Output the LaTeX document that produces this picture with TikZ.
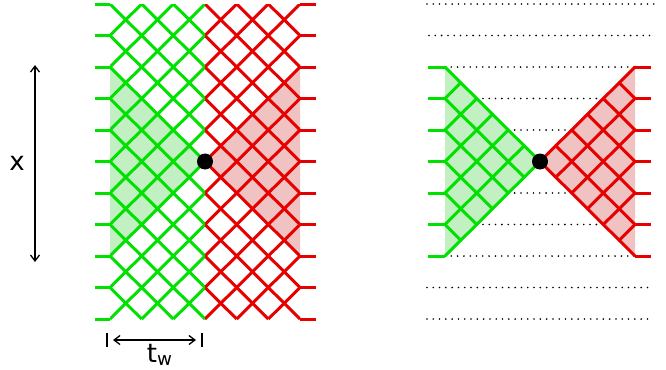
\documentclass[tikz,border=0pt]{standalone}
\usepackage{fontspec}
\setmainfont{DejaVu Sans}
\usepackage{xcolor}
\usetikzlibrary{arrows.meta}

\definecolor{latgreen}{RGB}{0,225,0}
\definecolor{latred}{RGB}{230,0,0}
\definecolor{fillgreen}{RGB}{194,240,194}
\definecolor{fillred}{RGB}{240,194,194}

\tikzset{
  gline/.style={draw=latgreen, line width=1.5pt},
  rline/.style={draw=latred, line width=1.5pt},
  dots/.style={line width=0.9pt, line cap=round, dash pattern=on 0pt off 3.15pt},
  vtx/.style={circle, fill=black, inner sep=0pt, minimum size=8pt},
  lab/.style={font=\fontsize{13}{15}\selectfont, inner sep=1pt},
  arr/.style={line width=0.65pt, {Straight Barb[length=3pt,width=4.5pt]}-{Straight Barb[length=3pt,width=4.5pt]}},
}

\begin{document}
\begin{tikzpicture}[x=0.5pt, y=-0.5pt]
    \useasboundingbox (0,0) rectangle (666,370);

    % whole lattice, left
    \begin{scope}[shift={(110,4)}, x=7.917pt, y=-7.875pt]
        \fill[fillgreen] (0,4) -- (6,10) -- (0,16) -- cycle;
        \fill[fillred] (12,4) -- (6,10) -- (12,16) -- cycle;
        \begin{scope}
            \clip (0,0) rectangle (6,20);
            \foreach \c in {-20,-18,...,12} \draw[gline] (\c,0) -- ++(20,20);
            \foreach \c in {0,2,...,32} \draw[gline] (\c,0) -- ++(-20,20);
        \end{scope}
        \begin{scope}
            \clip (6,0) rectangle (12,20);
            \foreach \c in {-20,-18,...,12} \draw[rline] (\c,0) -- ++(20,20);
            \foreach \c in {0,2,...,32} \draw[rline] (\c,0) -- ++(-20,20);
        \end{scope}
        \foreach \j in {0,2,...,20} {
            \draw[gline] (-0.95,\j) -- (0,\j);
            \draw[rline] (12,\j) -- (13.01,\j);
        }
        \node[vtx] (dotA) at (6,10) {};
    \end{scope}

    % cones only, right
    \begin{scope}[shift={(445,4)}, x=7.917pt, y=-7.875pt]
        \foreach \j/\a/\b in {0/-1.14/13.45, 2/-1.01/13, 4/0/12, 6/2/10, 8/4/8,
                             12/4/8, 14/2/10, 16/0/12, 18/-1.14/12.95, 20/-1.14/13}
            \draw[dots] (\a,\j) -- (\b,\j);
        \fill[fillgreen] (0,4) -- (6,10) -- (0,16) -- cycle;
        \fill[fillred] (12,4) -- (6,10) -- (12,16) -- cycle;
        \foreach \k in {0,...,5} {
            \draw[gline, line cap=round] (0,{4+2*\k}) -- ({6-\k},{10+\k});
            \draw[gline, line cap=round] (0,{16-2*\k}) -- ({6-\k},{10-\k});
            \draw[rline, line cap=round] (12,{4+2*\k}) -- ({6+\k},{10+\k});
            \draw[rline, line cap=round] (12,{16-2*\k}) -- ({6+\k},{10-\k});
        }
        \foreach \j in {4,6,...,16} {
            \draw[gline] (-1.07,\j) -- (0,\j);
            \draw[rline] (12,\j) -- (13.01,\j);
        }
        \node[vtx] (dotB) at (6,10) {};
    \end{scope}

    \coordinate (xtop) at (35,65);
    \coordinate (xbot) at (35,262);
    \draw[arr] (xtop) -- (xbot);
    \node[lab] (xlab) at (17,163) {x};

    \draw[line width=0.65pt] (107,333) -- (107,347);
    \draw[line width=0.65pt] (202,333) -- (202,347);
    \coordinate (twl) at (113,340);
    \coordinate (twr) at (196,340);
    \draw[arr] (twl) -- (twr);
    \node[lab] (twlab) at (160,355) {t\textsubscript{w}};
\end{tikzpicture}
\end{document}
